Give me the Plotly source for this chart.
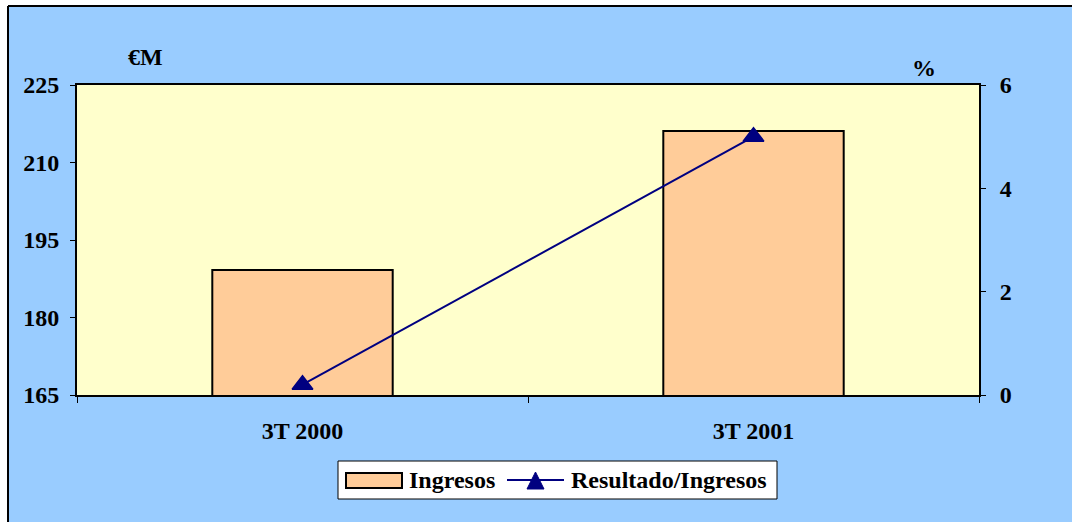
import plotly.graph_objects as go

# data
quarters = ["3T 2000", "3T 2001"]
ingresos = [189.2, 216.1]          # €M, left axis
resultado_pct = [0.2, 5.0]         # %, right axis

left_ticks = [165, 180, 195, 210, 225]
right_ticks = [0, 2, 4, 6]

BG = "#99CCFF"
PLOT_BG = "#FFFFCC"
BAR = "#FFCC99"
NAVY = "#000080"
FONT = dict(family="Liberation Serif, Times New Roman, serif", size=24, color="black", weight="bold")

W, H = 1072, 522
L, R, T, B = 77, 93, 85, 127
pw, ph = W - L - R, H - T - B


def px_x(p):
    return (p - L) / pw


def px_y(p):
    return (H - B - p) / ph


def paper_rect(x0, y0, x1, y1, **kw):
    return dict(type="rect", xref="paper", yref="paper",
                x0=px_x(x0), x1=px_x(x1), y0=px_y(y1), y1=px_y(y0), **kw)


def paper_line(x0, y0, x1, y1, color="black", width=2):
    return dict(type="line", xref="paper", yref="paper",
                x0=px_x(x0), x1=px_x(x1), y0=px_y(y0), y1=px_y(y1),
                line=dict(color=color, width=width))


def paper_text(text, x, y, xanchor="center"):
    return dict(text=text, x=px_x(x), y=px_y(y), xref="paper", yref="paper",
                xanchor=xanchor, yanchor="middle", showarrow=False, font=FONT)


fig = go.Figure()
fig.add_trace(go.Bar(
    x=quarters, y=ingresos, name="Ingresos",
    marker=dict(color=BAR, line=dict(color="black", width=2)),
))
fig.add_trace(go.Scatter(
    x=quarters, y=resultado_pct, name="Resultado/Ingresos", yaxis="y2",
    mode="lines+markers",
    line=dict(color=NAVY, width=2),
    marker=dict(symbol="triangle-up", size=18, color=NAVY, line=dict(color=NAVY, width=1.5)),
))

axis_common = dict(showline=True, linecolor="black", linewidth=2, showgrid=False,
                   zeroline=False, ticks="outside", tickcolor="black", tickfont=FONT)

# legend drawn by hand so the swatch and box match the Excel look
tri = "M {0},{1} L {2},{3} L {4},{5} Z".format(
    px_x(527), px_y(489), px_x(544), px_y(489), px_x(535.5), px_y(472))
legend_shapes = [
    paper_rect(338, 461, 777, 499, fillcolor="white", line=dict(color="black", width=1)),
    paper_rect(346, 473, 402, 488, fillcolor=BAR, line=dict(color="black", width=2)),
    paper_line(507, 480, 564, 480, color=NAVY, width=2),
    dict(type="path", xref="paper", yref="paper", path=tri, fillcolor=NAVY,
         line=dict(color=NAVY, width=1)),
]
legend_texts = [
    paper_text("Ingresos", 407, 480, xanchor="left"),
    paper_text("Resultado/Ingresos", 569, 480, xanchor="left"),
]

fig.update_layout(
    width=W, height=H,
    margin=dict(l=L, r=R, t=T, b=B, pad=0),
    paper_bgcolor=BG, plot_bgcolor=PLOT_BG,
    font=FONT, bargap=0.6, showlegend=False,
    xaxis=dict(**axis_common, mirror=True, ticklen=6, tickson="boundaries",
               ticklabelstandoff=13),
    yaxis=dict(**axis_common, mirror=True, range=[165, 225], tickvals=left_ticks,
               ticklen=5, ticklabelstandoff=6),
    yaxis2=dict(**axis_common, overlaying="y", side="right", range=[0, 6],
                tickvals=right_ticks, ticklen=5, ticklabelstandoff=9),
    annotations=[paper_text("€M", 145, 57), paper_text("%", 924, 68)] + legend_texts,
    shapes=[
        # white margin strips and the black chart border seen in the reference
        paper_rect(0, 0, 8, H, fillcolor="white", line_width=0, layer="below"),
        paper_rect(0, 0, W, 6, fillcolor="white", line_width=0, layer="below"),
        paper_line(8, 6, 8, H),
        paper_line(8, 6, W, 6),
    ] + legend_shapes,
)

fig.write_html("out.html", config={"displayModeBar": False},
               post_script="document.body.style.margin='0px';")
